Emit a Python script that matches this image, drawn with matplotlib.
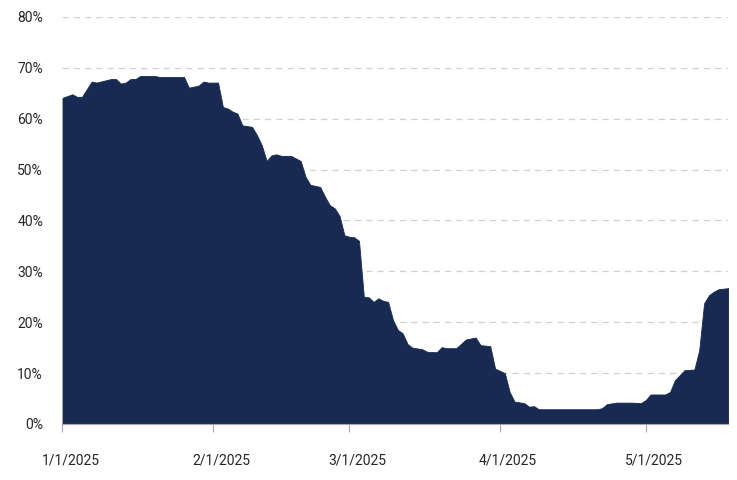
import matplotlib
matplotlib.use("Agg")
import matplotlib.pyplot as plt
import matplotlib.transforms as mtransforms
from matplotlib.ticker import FuncFormatter
import pandas as pd

plt.rcParams['font.family'] = ['Roboto', 'DejaVu Sans']

# breakpoints (date, share)
dates = ["2025-01-01", "2025-01-03", "2025-01-04", "2025-01-05", "2025-01-07", "2025-01-08",
         "2025-01-11", "2025-01-12", "2025-01-13", "2025-01-14", "2025-01-15", "2025-01-16",
         "2025-01-17", "2025-01-20", "2025-01-21", "2025-01-26", "2025-01-27", "2025-01-29",
         "2025-01-30", "2025-01-31", "2025-02-02", "2025-02-03", "2025-02-04", "2025-02-05",
         "2025-02-06", "2025-02-07", "2025-02-09", "2025-02-10", "2025-02-11", "2025-02-12",
         "2025-02-13", "2025-02-14", "2025-02-15", "2025-02-17", "2025-02-19", "2025-02-20",
         "2025-02-21", "2025-02-23", "2025-02-24", "2025-02-25", "2025-02-26", "2025-02-27",
         "2025-02-28", "2025-03-01", "2025-03-02", "2025-03-03", "2025-03-04", "2025-03-05",
         "2025-03-06", "2025-03-07", "2025-03-08", "2025-03-09", "2025-03-10", "2025-03-11",
         "2025-03-12", "2025-03-13", "2025-03-14", "2025-03-16", "2025-03-17", "2025-03-19",
         "2025-03-20", "2025-03-21", "2025-03-23", "2025-03-25", "2025-03-27", "2025-03-28",
         "2025-03-30", "2025-03-31", "2025-04-02", "2025-04-03", "2025-04-04", "2025-04-06",
         "2025-04-07", "2025-04-08", "2025-04-09", "2025-04-21", "2025-04-22", "2025-04-23",
         "2025-04-25", "2025-04-28", "2025-04-30", "2025-05-01", "2025-05-02", "2025-05-05",
         "2025-05-06", "2025-05-07", "2025-05-09", "2025-05-11", "2025-05-12", "2025-05-13",
         "2025-05-14", "2025-05-15", "2025-05-16", "2025-05-18"]
values = [64.1, 64.8, 64.3, 64.3, 67.3, 67.1,
          67.8, 67.8, 66.9, 67.1, 67.8, 67.8,
          68.4, 68.4, 68.2, 68.2, 66.1, 66.5,
          67.3, 67.1, 67.1, 62.3, 62.0, 61.4,
          61.0, 58.7, 58.4, 56.8, 54.8, 51.7,
          52.8, 53.0, 52.7, 52.7, 51.7, 48.6,
          47.0, 46.6, 44.7, 43.0, 42.4, 40.9,
          37.1, 36.8, 36.7, 36.0, 25.0, 24.9,
          24.0, 24.7, 24.2, 24.0, 20.4, 18.5,
          17.8, 15.7, 15.0, 14.7, 14.2, 14.1,
          15.1, 14.9, 14.9, 16.6, 17.0, 15.5,
          15.3, 10.9, 10.0, 6.3, 4.4, 4.1,
          3.4, 3.5, 2.9, 2.9, 3.1, 3.9,
          4.2, 4.2, 4.1, 4.7, 5.8, 5.8,
          6.3, 8.6, 10.6, 10.7, 14.5, 23.7,
          25.3, 26.0, 26.5, 26.7]
tick_dates = ["2025-01-01", "2025-02-01", "2025-03-01", "2025-04-01", "2025-05-01"]
tick_labels = ["1/1/2025", "2/1/2025", "3/1/2025", "4/1/2025", "5/1/2025"]

x = pd.to_datetime(dates)
y = [v / 100 for v in values]

fig = plt.figure(figsize=(7.37, 4.8), dpi=100)
ax = fig.add_axes([0.0848, 0.1167, 0.9035, 0.848])

ax.fill_between(x, 0, y, color="#182A52", linewidth=0.6, edgecolor="#182A52", zorder=2)

ax.set_ylim(0, 0.8)
ax.set_xlim(x[0], x[-1])
ax.set_yticks([i / 10 for i in range(9)])
ax.yaxis.set_major_formatter(FuncFormatter(lambda v, p: "{:.0f}%".format(v * 100)))
ax.set_xticks(pd.to_datetime(tick_dates))
ax.set_xticklabels(tick_labels)

ax.grid(axis="y", color="#D0D0D0", linestyle=(0, (5, 4)), linewidth=0.9, zorder=0)
for s in ["top", "right", "left"]:
    ax.spines[s].set_visible(False)
ax.spines["bottom"].set_color("#A6A6A6")
ax.spines["bottom"].set_zorder(3)

ax.tick_params(axis="y", length=0, pad=14, labelsize=10, labelcolor="#262626")
ax.tick_params(axis="x", length=6, color="#A6A6A6", pad=15, labelsize=10, labelcolor="#262626")

# date labels sit a little right of their ticks in the original
shift = mtransforms.ScaledTranslation(8 / 100, 0, fig.dpi_scale_trans)
for lbl in ax.get_xticklabels():
    lbl.set_transform(lbl.get_transform() + shift)

fig.savefig("out.png", dpi=100)
